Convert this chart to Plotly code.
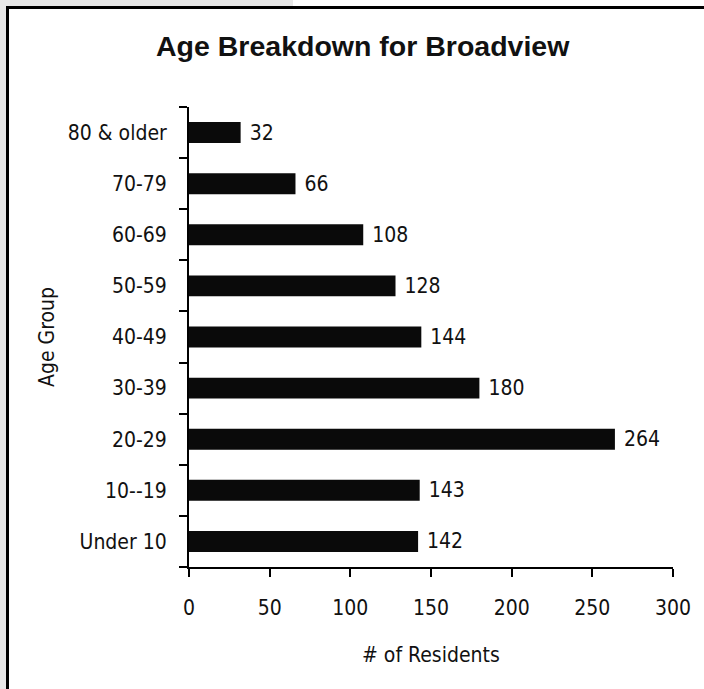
import plotly.graph_objects as go

categories = ["Under 10", "10--19", "20-29", "30-39", "40-49", "50-59", "60-69", "70-79", "80 & older"]
residents = [142, 143, 264, 180, 144, 128, 108, 66, 32]
x_ticks = [0, 50, 100, 150, 200, 250, 300]

W, H = 704, 689
L, R, T, B = 189, 31, 107, 122
PW, PH = W - L - R, H - T - B

def px(x):
    return (x - L) / PW

def py(y):
    return (H - B - y) / PH

FONT = "DejaVu Sans Condensed, Liberation Sans Narrow, Arial Narrow, sans-serif"
FS = 21

fig = go.Figure(go.Bar(
    x=residents, y=categories, orientation="h",
    marker=dict(color="#0a0a0a", line=dict(width=0)),
    text=residents, texttemplate=" %{text}", textposition="outside",
    constraintext="none",
    textfont=dict(family=FONT, size=FS, color="#111111"),
    cliponaxis=False, width=0.41,
))

shapes = [
    dict(type="rect", xref="paper", yref="paper", x0=px(0), x1=px(6), y0=py(0), y1=py(H),
         fillcolor="#e8e8e8", line=dict(width=0), layer="below"),
    dict(type="rect", xref="paper", yref="paper", x0=px(0), x1=px(293), y0=py(0), y1=py(6),
         fillcolor="#e8e8e8", line=dict(width=0), layer="below"),
    dict(type="line", xref="paper", yref="paper", x0=px(6), x1=px(W + 2), y0=py(7.5), y1=py(7.5),
         line=dict(color="black", width=3)),
    dict(type="line", xref="paper", yref="paper", x0=px(7.5), x1=px(7.5), y0=py(6), y1=py(H + 2),
         line=dict(color="black", width=3)),
]

annotations = [
    dict(text="<b>Age Breakdown for Broadview</b>", xref="paper", yref="paper",
         x=px(362.5), y=py(46), xanchor="center", yanchor="middle", showarrow=False,
         font=dict(family="Liberation Sans, Arial", size=28.5, color="#111111")),
    dict(text="Age Group", xref="paper", yref="paper", x=px(47), y=0.5, textangle=-90,
         xanchor="center", yanchor="middle", showarrow=False,
         font=dict(family=FONT, size=FS, color="#111111")),
    dict(text="# of Residents", xref="paper", yref="paper", x=0.5, y=py(655),
         xanchor="center", yanchor="middle", showarrow=False,
         font=dict(family=FONT, size=FS, color="#111111")),
]

fig.update_layout(
    width=W, height=H,
    margin=dict(l=L, r=R, t=T, b=B, pad=0, autoexpand=False),
    paper_bgcolor="white", plot_bgcolor="white",
    showlegend=False,
    shapes=shapes, annotations=annotations,
    xaxis=dict(range=[0, 300], tickvals=x_ticks, ticks="outside", ticklen=8, tickwidth=2,
               tickcolor="black", showline=True, linecolor="black", linewidth=2,
               showgrid=False, zeroline=False, ticklabelstandoff=13,
               tickfont=dict(family=FONT, size=FS, color="#111111")),
    yaxis=dict(categoryorder="array", categoryarray=categories, ticks="outside",
               tickson="boundaries", ticklen=8, tickwidth=2, tickcolor="black",
               showline=True, linecolor="black", linewidth=2, showgrid=False,
               ticklabelstandoff=16,
               tickfont=dict(family=FONT, size=FS, color="#111111")),
)

fig.write_html("out.html")
